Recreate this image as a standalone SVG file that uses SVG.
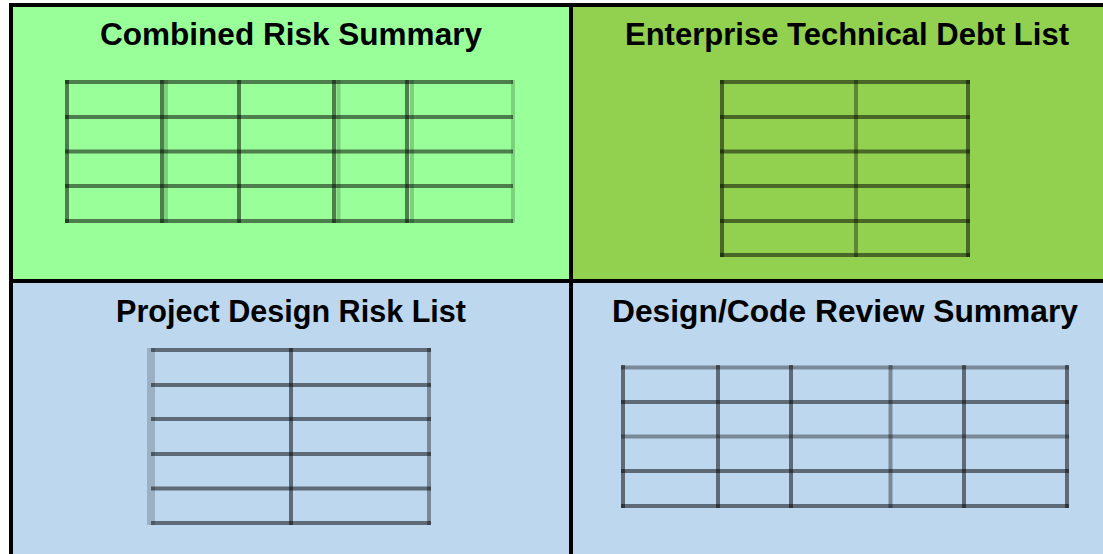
<svg xmlns="http://www.w3.org/2000/svg" width="1103" height="554" viewBox="0 0 1103 554">
<style>
.title{font-family:"Liberation Sans",Arial,sans-serif;font-weight:bold;font-size:32px;fill:#000}
.g{stroke:#000;stroke-opacity:0.5;stroke-width:4;fill:none}
.gl{stroke:#000;stroke-opacity:0.36;stroke-width:4;fill:none}
.gf{stroke:#000;stroke-opacity:0.18;stroke-width:4;fill:none}
.border{stroke:#000;stroke-width:4;fill:none}
</style>
<rect x="0" y="0" width="1103" height="554" fill="#fff"/>
<g id="combined-risk-summary">
<rect x="11" y="5" width="560" height="276" fill="#99FF99"/>
<text class="title" x="100" y="45" textLength="382" lengthAdjust="spacingAndGlyphs">Combined Risk Summary</text>
<g id="table-combined">
<path class="g" d="M65 82H513M65 117H513M65 151.5H513M65 186H513M65 221H513"/>
<path class="g" d="M67 80V223M162 80V223M239 80V223M334 80V223M407 80V223"/>
<path class="gf" d="M166 80V223M338.5 80V223M412 80V223"/>
<path class="gf" d="M513 80V223" stroke-width="8"/>
</g>
</g>
<g id="enterprise-technical-debt-list">
<rect x="571" y="5" width="532" height="276" fill="#92D050"/>
<text class="title" x="625" y="45" textLength="444" lengthAdjust="spacingAndGlyphs">Enterprise Technical Debt List</text>
<g id="table-enterprise">
<path class="g" d="M720 82H970M720 117H970M720 151.5H970M720 186H970M720 221H970M720 255H970"/>
<path class="g" d="M722 80V257M968 80V257"/>
<path class="gl" d="M856 80V257"/>
</g>
</g>
<g id="project-design-risk-list">
<rect x="11" y="281" width="560" height="273" fill="#BDD7EE"/>
<text class="title" x="116" y="322" textLength="350" lengthAdjust="spacingAndGlyphs">Project Design Risk List</text>
<g id="table-project">
<path class="g" d="M151 350H431M151 385H431M151 419H431M151 454H431M151 488.5H431M151 523H431"/>
<path class="g" d="M291 348V525"/>
<path class="gl" d="M429 348V525"/>
<path class="gf" d="M149 348V525"/>
<path class="gf" d="M153 348V525" stroke-opacity="0.3"/>
</g>
</g>
<g id="design-code-review-summary">
<rect x="571" y="281" width="532" height="273" fill="#BDD7EE"/>
<text class="title" x="612" y="322" textLength="466" lengthAdjust="spacingAndGlyphs">Design/Code Review Summary</text>
<g id="table-review">
<path class="g" d="M621 402H1069M621 471H1069M621 506H1069"/>
<path class="gl" d="M621 367.5H1069M621 436.5H1069"/>
<path class="g" d="M623 365V508M718 365V508M791 365V508M964 365V508M1067 365V508"/>
<path class="gl" d="M890.5 365V508"/>
</g>
</g>
<g id="connectors">
<path class="border" d="M9 5H1103M11 3V554M571 3V554M9 281H1103"/>
</g>
</svg>
